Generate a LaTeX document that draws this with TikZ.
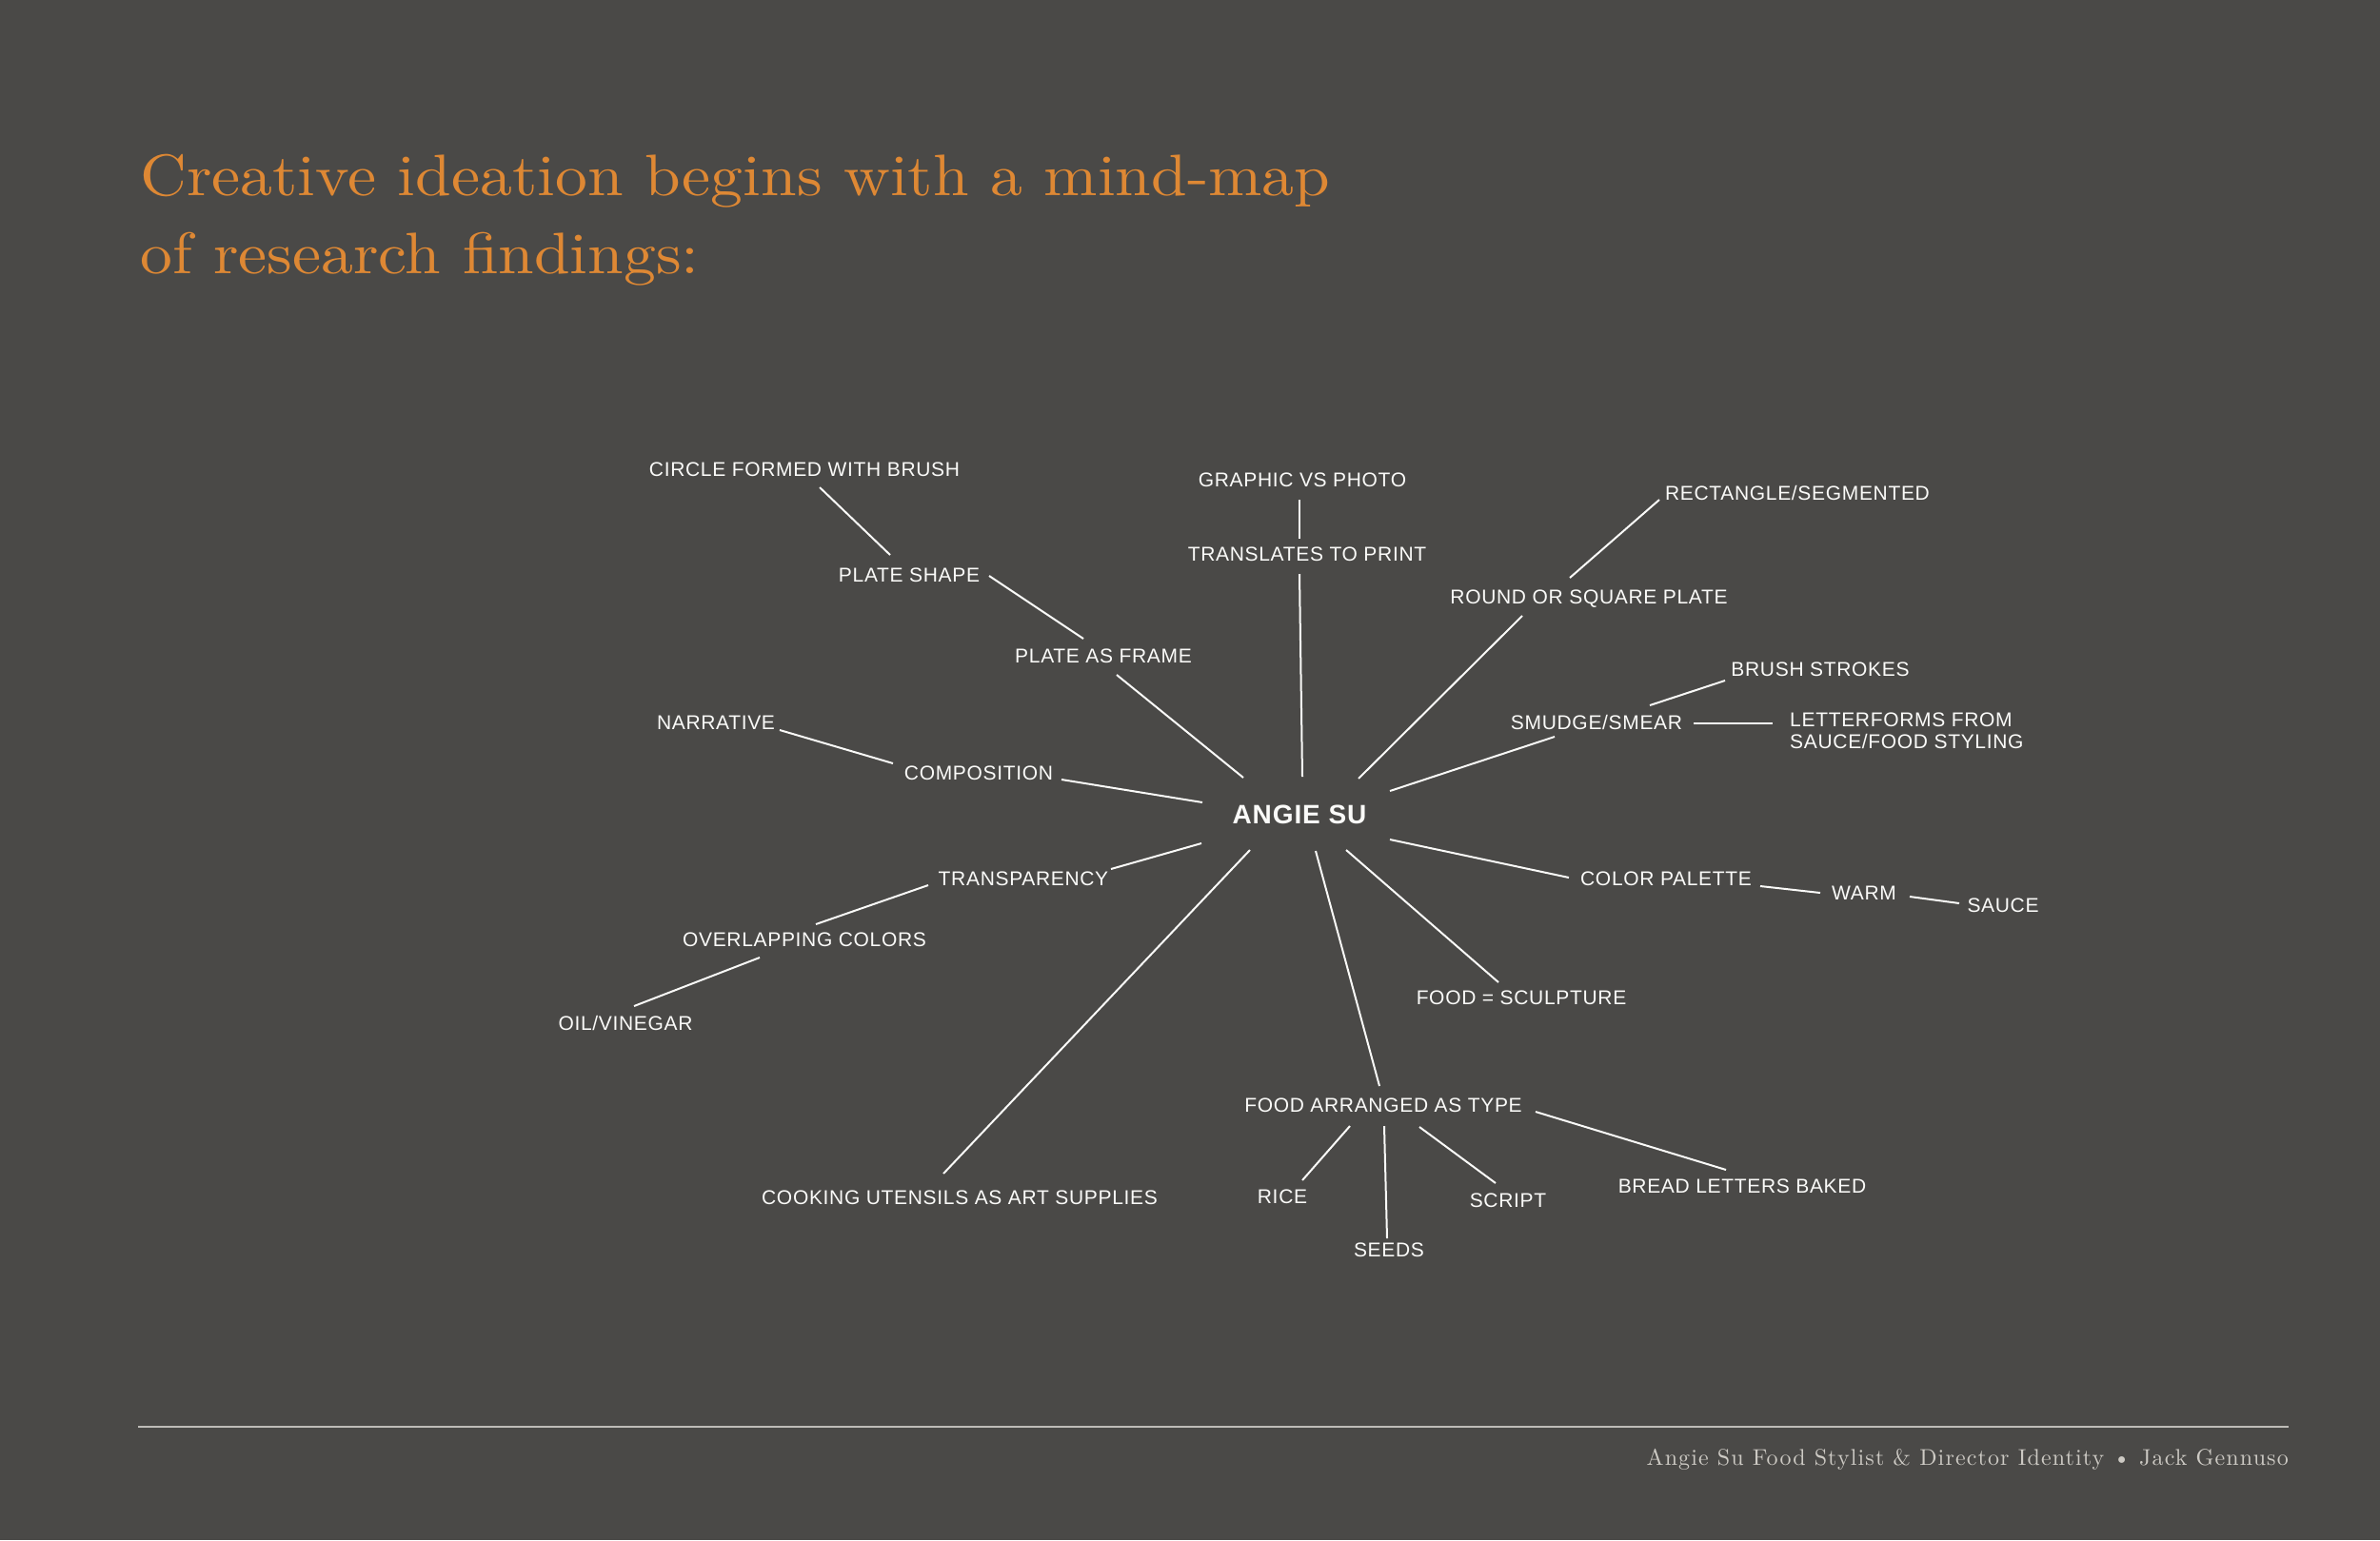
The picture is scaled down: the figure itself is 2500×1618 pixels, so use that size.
\documentclass[tikz,border=0pt]{standalone}
\usepackage{fontspec}
\newfontfamily\labfont[LetterSpace=3.2]{Liberation Sans}
\newfontfamily\titlefont[FakeStretch=1.1]{lmroman10-regular.otf}
\newfontfamily\footfont[LetterSpace=4.7]{lmroman10-regular.otf}
\definecolor{bg}{RGB}{74,73,71}
\definecolor{ttl}{RGB}{222,136,52}
\definecolor{ft}{RGB}{205,202,196}
\definecolor{rl}{RGB}{190,188,184}
\definecolor{lab}{RGB}{250,250,248}
\newcommand\conn[4]{\draw[link] ([shift={(#2)}]#1) -- ([shift={(#4)}]#3);}
\begin{document}
\begin{tikzpicture}[x=1pt,y=-1pt,
  lbl/.style={text=lab,inner sep=0pt,font=\labfont\fontsize{21}{25}\selectfont,text height=15pt,text depth=0pt},
  hub/.style={text=lab,inner sep=0pt,font=\labfont\bfseries\fontsize{28}{32}\selectfont,text height=20pt,text depth=0pt},
  link/.style={draw=lab,line width=2pt},
  ttlstyle/.style={text=ttl,inner sep=0pt,anchor=base west,font=\titlefont\fontsize{61.5}{82}\selectfont},
  footstyle/.style={text=ft,inner sep=0pt,anchor=base east,font=\footfont\fontsize{24}{28}\selectfont}]
\fill[bg] (0,0) rectangle (2500,1618);
\useasboundingbox (0,0) rectangle (2500,1618);

% title
\node[ttlstyle] (title1) at (147,205) {Creative ideation begins with a mind-map};
\node[ttlstyle] (title2) at (147,287) {of research findings:};

% footer
\draw[draw=rl,line width=2pt] (145,1499) coordinate (ruleL) -- (2404,1499) coordinate (ruleR);
\node[footstyle] (footer) at (2404,1539) {Angie Su Food Stylist \& Director Identity \textbullet\ Jack Gennuso};

% nodes
\node[hub] (angie) at (1365,855) {ANGIE SU};
\node[lbl] (circle) at (845,493) {CIRCLE FORMED WITH BRUSH};
\node[lbl] (plateshape) at (955,604) {PLATE SHAPE};
\node[lbl] (plateframe) at (1159,689) {PLATE AS FRAME};
\node[lbl] (graphic) at (1368,504) {GRAPHIC VS PHOTO};
\node[lbl] (translates) at (1373,582) {TRANSLATES TO PRINT};
\node[lbl] (rect) at (1888,518) {RECTANGLE/SEGMENTED};
\node[lbl] (round) at (1669,627) {ROUND OR SQUARE PLATE};
\node[lbl] (brush) at (1912,703) {BRUSH STROKES};
\node[lbl] (smudge) at (1677,759) {SMUDGE/SMEAR};
\node[text=lab,inner sep=0pt,anchor=west,align=left,font=\labfont\fontsize{21}{23}\selectfont] (letter) at (1880,768) {LETTERFORMS FROM\\SAUCE/FOOD STYLING};
\node[lbl] (narrative) at (752,759) {NARRATIVE};
\node[lbl] (composition) at (1028,812) {COMPOSITION};
\node[lbl] (transparency) at (1075,923) {TRANSPARENCY};
\node[lbl] (overlapping) at (845,987) {OVERLAPPING COLORS};
\node[lbl] (oil) at (657,1075) {OIL/VINEGAR};
\node[lbl] (cooking) at (1008,1258) {COOKING UTENSILS AS ART SUPPLIES};
\node[lbl] (colorpal) at (1750,923) {COLOR PALETTE};
\node[lbl] (warm) at (1958,938) {WARM};
\node[lbl] (sauce) at (2104,951) {SAUCE};
\node[lbl] (sculpture) at (1598,1048) {FOOD = SCULPTURE};
\node[lbl] (arranged) at (1453,1161) {FOOD ARRANGED AS TYPE};
\node[lbl] (rice) at (1347,1257) {RICE};
\node[lbl] (seeds) at (1459,1313) {SEEDS};
\node[lbl] (script) at (1584,1261) {SCRIPT};
\node[lbl] (bread) at (1830,1246) {BREAD LETTERS BAKED};

% connectors
\conn{circle.center}{16,19}{plateshape.center}{-20,-21}
\conn{plateshape.center}{84,1}{plateframe.center}{-21,-18}
\conn{plateframe.center}{14,20}{angie.center}{-59,-38}
\conn{graphic.center}{-3,21}{translates.center}{-8,-16}
\conn{translates.center}{-8,21}{angie.center}{3,-39}
\conn{rect.center}{-145,7}{round.center}{-20,-20}
\conn{round.center}{-70,20}{angie.center}{62,-37}
\conn{brush.center}{-100,12}{smudge.center}{56,-18}
\conn{smudge.center}{102,1}{letter.west}{-18,-8}
\conn{smudge.center}{-44,15}{angie.center}{95,-24}
\conn{narrative.center}{67,8}{composition.center}{-90,-10}
\conn{composition.center}{87,7}{angie.center}{-102,-12}
\conn{angie.center}{-103,31}{transparency.center}{92,-10}
\conn{transparency.center}{-100,7}{overlapping.center}{12,-16}
\conn{overlapping.center}{-47,19}{oil.center}{9,-18}
\conn{angie.center}{-52,38}{cooking.center}{-17,-25}
\conn{angie.center}{95,27}{colorpal.center}{-102,-1}
\conn{colorpal.center}{99,8}{warm.center}{-46,0}
\conn{warm.center}{48,4}{sauce.center}{-46,-2}
\conn{angie.center}{49,38}{sculpture.center}{-24,-16}
\conn{angie.center}{17,39}{arranged.center}{-4,-20}
\conn{arranged.center}{-35,22}{rice.center}{21,-17}
\conn{arranged.center}{1,22}{seeds.center}{-2,-12}
\conn{arranged.center}{38,23}{script.center}{-13,-18}
\conn{arranged.center}{160,7}{bread.center}{-17,-17}
\end{tikzpicture}
\end{document}
